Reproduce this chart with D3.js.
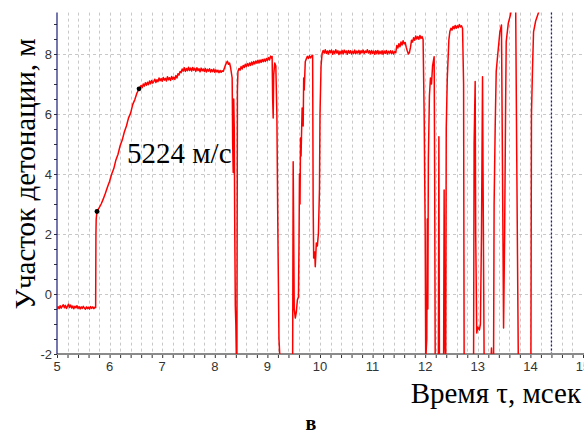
<!DOCTYPE html>
<html>
<head>
<meta charset="utf-8">
<script src="https://cdnjs.cloudflare.com/ajax/libs/d3/7.8.5/d3.min.js"></script>
<style>
  body { margin: 0; background: #fff; }
  svg { display: block; }
</style>
</head>
<body>
<div id="chart"></div>
<script>
// values: [время, мсек ; участок, м]
var baseline = [
  [5.00, -0.52], [5.02, -0.42], [5.04, -0.49], [5.06, -0.39], [5.08, -0.47], [5.10, -0.41],
  [5.12, -0.36], [5.14, -0.46], [5.16, -0.38], [5.18, -0.48], [5.20, -0.41], [5.22, -0.34],
  [5.24, -0.45], [5.26, -0.37], [5.28, -0.47], [5.30, -0.40], [5.32, -0.49], [5.34, -0.41],
  [5.36, -0.46], [5.38, -0.39], [5.40, -0.48], [5.42, -0.42], [5.44, -0.50], [5.46, -0.43],
  [5.48, -0.48], [5.50, -0.41], [5.52, -0.47], [5.54, -0.51], [5.56, -0.43], [5.58, -0.49],
  [5.60, -0.44], [5.62, -0.50], [5.64, -0.42], [5.66, -0.48], [5.68, -0.43], [5.70, -0.49],
  [5.72, -0.44], [5.735, -0.45]
];
var rise = [
  [5.74, 2.0], [5.745, 2.5], [5.76, 2.75], [5.80, 2.87], [5.84, 3.00], [5.88, 3.17],
  [5.92, 3.36], [5.96, 3.57], [6.00, 3.76], [6.04, 4.00], [6.08, 4.18], [6.12, 4.47],
  [6.16, 4.66], [6.20, 4.94], [6.24, 5.13], [6.28, 5.40], [6.32, 5.60], [6.36, 5.87],
  [6.40, 6.03], [6.44, 6.32], [6.48, 6.48], [6.52, 6.70], [6.56, 6.84]
];
var plateau1 = [
  [6.58, 6.90], [6.60, 6.95], [6.62, 6.88], [6.64, 7.00], [6.66, 6.93], [6.68, 7.04],
  [6.70, 6.96], [6.72, 7.06], [6.74, 6.98], [6.76, 7.10], [6.78, 7.01], [6.80, 7.12],
  [6.82, 7.03], [6.84, 7.09], [6.86, 7.16], [6.88, 7.05], [6.90, 7.14], [6.92, 7.08],
  [6.94, 7.20], [6.96, 7.11], [6.98, 7.18], [7.00, 7.09], [7.02, 7.22], [7.04, 7.13],
  [7.06, 7.19], [7.08, 7.10], [7.10, 7.24], [7.12, 7.14], [7.14, 7.21], [7.16, 7.12],
  [7.18, 7.25], [7.20, 7.16], [7.22, 7.23], [7.24, 7.15], [7.26, 7.28], [7.28, 7.20],
  [7.30, 7.34], [7.32, 7.30], [7.34, 7.42], [7.36, 7.38], [7.38, 7.50], [7.40, 7.43],
  [7.42, 7.54], [7.44, 7.42], [7.46, 7.52], [7.48, 7.44], [7.50, 7.56], [7.52, 7.45],
  [7.54, 7.53], [7.56, 7.43], [7.58, 7.55], [7.60, 7.46], [7.62, 7.52], [7.64, 7.42],
  [7.66, 7.54], [7.68, 7.45], [7.70, 7.51], [7.72, 7.41], [7.74, 7.53], [7.76, 7.44],
  [7.78, 7.50], [7.80, 7.42], [7.82, 7.52], [7.84, 7.40], [7.86, 7.49], [7.88, 7.43],
  [7.90, 7.51], [7.92, 7.40], [7.94, 7.48], [7.96, 7.41], [7.98, 7.50], [8.00, 7.39],
  [8.02, 7.47], [8.04, 7.40], [8.06, 7.46], [8.08, 7.38], [8.10, 7.45], [8.12, 7.39],
  [8.14, 7.44], [8.16, 7.42], [8.18, 7.52], [8.20, 7.62], [8.22, 7.70], [8.24, 7.76],
  [8.26, 7.66], [8.28, 7.70], [8.30, 7.55], [8.33, 7.20], [8.34, 5.00], [8.35, 4.05],
  [8.36, 6.50], [8.37, 5.50], [8.38, 2.00], [8.39, -0.40], [8.40, -1.00], [8.41, -2.2],
  [8.42, -2.2], [8.43, 6.80], [8.44, 7.42], [8.46, 7.52], [8.48, 7.46], [8.50, 7.58],
  [8.52, 7.50], [8.54, 7.62], [8.56, 7.55], [8.58, 7.66], [8.60, 7.58], [8.62, 7.68],
  [8.64, 7.60], [8.66, 7.70], [8.68, 7.62], [8.70, 7.73], [8.72, 7.64], [8.74, 7.75],
  [8.76, 7.67], [8.78, 7.77], [8.80, 7.69], [8.82, 7.79], [8.84, 7.70], [8.86, 7.80],
  [8.88, 7.72], [8.90, 7.82], [8.92, 7.74], [8.94, 7.83], [8.96, 7.75], [8.98, 7.85],
  [9.00, 7.78], [9.02, 7.88], [9.04, 7.80], [9.06, 7.93], [9.08, 7.86], [9.09, 7.92],
  [9.10, 6.50], [9.11, 5.87], [9.12, 7.30], [9.14, 7.70], [9.16, 7.60], [9.18, 6.00],
  [9.20, 1.90], [9.22, -1.50], [9.24, -2.2]
];
var breakup1 = [
  [9.48, -2.2], [9.49, 4.41], [9.51, -0.50], [9.53, -0.80], [9.55, -0.60], [9.57, -0.20],
  [9.59, -0.10], [9.60, 1.50], [9.61, 4.00], [9.62, 3.00], [9.63, 5.20], [9.64, 4.60],
  [9.66, 6.20], [9.68, 5.60], [9.69, 7.20], [9.70, 6.80], [9.72, 7.74], [9.74, 7.84],
  [9.76, 7.92], [9.78, 7.85], [9.80, 7.94], [9.82, 7.87], [9.84, 7.93], [9.86, 7.96],
  [9.87, 3.00], [9.88, 1.20], [9.90, 1.40], [9.91, 0.91], [9.93, 1.70], [9.95, 1.60],
  [9.97, 2.03], [9.99, 3.50], [10.00, 6.00], [10.02, 7.60], [10.04, 8.02]
];
var plateau2 = [
  [10.06, 8.12], [10.08, 8.03], [10.10, 8.14], [10.12, 8.02], [10.14, 8.10], [10.16, 8.00],
  [10.18, 8.12], [10.20, 8.04], [10.22, 8.13], [10.24, 7.99], [10.26, 8.10], [10.28, 8.02],
  [10.30, 8.14], [10.32, 8.03], [10.34, 8.11], [10.36, 7.98], [10.38, 8.09], [10.40, 8.01],
  [10.42, 8.12], [10.44, 8.00], [10.46, 8.13], [10.48, 8.04], [10.50, 8.10], [10.52, 7.99],
  [10.54, 8.12], [10.56, 8.03], [10.58, 8.11], [10.60, 8.00], [10.62, 8.09], [10.64, 8.02],
  [10.66, 8.13], [10.68, 8.01], [10.70, 8.10], [10.72, 8.03], [10.74, 8.12], [10.76, 8.00],
  [10.78, 8.11], [10.80, 8.04], [10.82, 8.13], [10.84, 8.02], [10.86, 8.10], [10.88, 8.05],
  [10.90, 8.14], [10.92, 8.03], [10.94, 8.11], [10.96, 8.01], [10.98, 8.12], [11.00, 8.02],
  [11.02, 8.10], [11.04, 7.99], [11.06, 8.11], [11.08, 8.02], [11.10, 8.12], [11.12, 8.00],
  [11.14, 8.09], [11.16, 8.01], [11.18, 8.11], [11.20, 7.99], [11.22, 8.10], [11.24, 8.02],
  [11.26, 8.12], [11.28, 8.00], [11.30, 8.09], [11.32, 8.03], [11.34, 8.11], [11.36, 8.01],
  [11.38, 8.10], [11.40, 8.00], [11.42, 8.08], [11.44, 8.04], [11.46, 8.28], [11.48, 8.20],
  [11.50, 8.34], [11.52, 8.24], [11.54, 8.40], [11.56, 8.30], [11.58, 8.44], [11.60, 8.34],
  [11.62, 8.38], [11.64, 8.22], [11.66, 8.10], [11.68, 8.00], [11.70, 8.05], [11.72, 8.22],
  [11.74, 8.46], [11.76, 8.40], [11.78, 8.54], [11.80, 8.46], [11.82, 8.60], [11.84, 8.50],
  [11.86, 8.58], [11.88, 8.49], [11.90, 8.62], [11.92, 8.52], [11.94, 8.58], [11.96, 8.48]
];
var breakup2 = [
  [11.98, 6.0], [12.00, 2.0], [12.01, -2.2], [12.03, -1.5], [12.04, 2.5], [12.05, -0.5],
  [12.06, 4.5], [12.08, 6.6], [12.10, 7.2], [12.12, 7.0], [12.14, 7.6], [12.17, 7.91],
  [12.18, 4.0], [12.19, -2.2], [12.25, -2.2], [12.26, 5.24], [12.27, -2.2], [12.35, -2.2],
  [12.36, 3.47], [12.37, -1.5], [12.39, -2.2], [12.40, 5.5], [12.42, 7.2], [12.45, 8.47],
  [12.47, 8.76], [12.49, 8.86], [12.51, 8.80], [12.53, 8.92], [12.55, 8.84], [12.57, 8.95],
  [12.59, 8.86], [12.61, 8.94], [12.63, 8.88], [12.65, 8.98], [12.67, 8.90], [12.69, 8.94],
  [12.71, 8.85], [12.73, 7.0], [12.74, -2.2], [12.92, -2.2], [12.93, 5.0], [12.95, 7.08],
  [12.96, 2.0], [12.98, -1.3], [13.00, -1.1], [13.03, -1.2], [13.05, -1.0], [13.07, 2.0],
  [13.09, 7.24], [13.10, 4.0], [13.12, -2.2], [13.25, -2.2], [13.26, -1.8], [13.27, -2.2],
  [13.30, -2.2], [13.31, 2.97], [13.33, 5.5], [13.35, 7.42], [13.38, 8.0], [13.42, 8.74],
  [13.45, 8.97], [13.47, 4.0], [13.49, -1.13], [13.51, 2.0], [13.53, 6.5], [13.54, 8.41],
  [13.58, 9.03], [13.62, 9.3], [13.65, 9.6], [13.72, 9.6], [13.74, 4.63], [13.77, -2.2],
  [14.01, -2.2], [14.02, 5.97], [14.04, 7.5], [14.06, 8.74], [14.10, 9.1], [14.15, 9.36],
  [14.20, 9.6], [14.40, 9.6]
];
var markers = [[5.76, 2.75], [6.56, 6.84]];
var xTicks = [5, 6, 7, 8, 9, 10, 11, 12, 13, 14, 15];
var yTicks = [-2, 0, 2, 4, 6, 8];
var endTime = 14.4;

var width = 584, height = 435;
var plotLeft = 57, plotRight = 583, plotTop = 12.6, plotBottom = 354;

var x = d3.scaleLinear().domain([5, 15]).range([plotLeft, plotRight]);
var y = d3.scaleLinear().domain([-2, 9.38]).range([plotBottom, plotTop]);

var svg = d3.select("#chart").append("svg")
  .attr("width", width)
  .attr("height", height);

svg.append("clipPath").attr("id", "plot")
  .append("rect")
  .attr("x", plotLeft).attr("y", plotTop)
  .attr("width", plotRight - plotLeft).attr("height", plotBottom - plotTop);

// grid
var grid = svg.append("g");
grid.selectAll(".vg")
  .data(d3.range(1, 50).map(function (i) { return 5 + i * 0.2; }))
  .enter().append("line")
  .attr("x1", function (d) { return Math.round(x(d)) + 0.5; })
  .attr("x2", function (d) { return Math.round(x(d)) + 0.5; })
  .attr("y1", plotTop).attr("y2", plotBottom)
  .attr("stroke", "#c8c8c8")
  .attr("stroke-dasharray", "3,3");
grid.selectAll(".hg")
  .data(yTicks.slice(1))
  .enter().append("line")
  .attr("x1", plotLeft).attr("x2", plotRight)
  .attr("y1", function (d) { return Math.round(y(d)) + 0.5; })
  .attr("y2", function (d) { return Math.round(y(d)) + 0.5; })
  .attr("stroke", "#c8c8c8")
  .attr("stroke-dasharray", "3,3");

// axes
var xAxis = svg.append("g").attr("transform", "translate(0," + plotBottom + ")")
  .call(d3.axisBottom(x).tickValues(d3.range(0, 51).map(function (i) { return 5 + i * 0.2; }))
    .tickSize(4).tickFormat(""));
xAxis.select(".domain").remove();
xAxis.selectAll(".tick text").remove();
xAxis.selectAll("line").attr("stroke", "#333");
xAxis.selectAll(".lbl")
  .data(xTicks)
  .enter().append("text")
  .attr("x", function (d) { return x(d); })
  .attr("y", 17)
  .attr("text-anchor", "middle")
  .attr("font-family", "Liberation Sans, Arial, sans-serif")
  .attr("font-size", 13)
  .attr("fill", "#333")
  .text(function (d) { return d; });
svg.append("line")
  .attr("x1", plotLeft).attr("x2", width)
  .attr("y1", plotBottom).attr("y2", plotBottom)
  .attr("stroke", "#8a8a8a").attr("stroke-width", 2);

var yAxis = svg.append("g").attr("transform", "translate(" + plotLeft + ",0)")
  .call(d3.axisLeft(y).tickValues(d3.range(0, 23).map(function (i) { return -2 + i * 0.5; }))
    .tickSize(3).tickFormat(""));
yAxis.select(".domain").remove();
yAxis.selectAll(".tick text").remove();
yAxis.selectAll("line").attr("stroke", "#333");
yAxis.selectAll(".lbl")
  .data(yTicks)
  .enter().append("text")
  .attr("x", -5)
  .attr("y", function (d) { return y(d) + 4.5; })
  .attr("text-anchor", "end")
  .attr("font-family", "Liberation Sans, Arial, sans-serif")
  .attr("font-size", 13)
  .attr("fill", "#333")
  .text(function (d) { return d; });
svg.append("line")
  .attr("x1", plotLeft).attr("x2", plotLeft)
  .attr("y1", plotTop).attr("y2", plotBottom)
  .attr("stroke", "#1c1c78").attr("stroke-width", 1.2);

// end marker
svg.append("line")
  .attr("x1", x(endTime)).attr("x2", x(endTime))
  .attr("y1", plotTop).attr("y2", plotBottom - 1)
  .attr("stroke", "#1c1c78").attr("stroke-width", 1.3)
  .attr("stroke-dasharray", "2,2");

// trace
var line = d3.line()
  .x(function (d) { return x(d[0]); })
  .y(function (d) { return y(d[1]); });

var trace = baseline.concat(rise, plateau1, breakup1, plateau2, breakup2);
svg.append("path")
  .datum(trace)
  .attr("clip-path", "url(#plot)")
  .attr("fill", "none")
  .attr("stroke", "#ff0000")
  .attr("stroke-width", 1.5)
  .attr("stroke-linejoin", "round")
  .attr("d", line);

svg.selectAll(".mk")
  .data(markers)
  .enter().append("circle")
  .attr("cx", function (d) { return x(d[0]); })
  .attr("cy", function (d) { return y(d[1]); })
  .attr("r", 2.4)
  .attr("fill", "#000");

// texts
svg.append("text")
  .attr("x", 127).attr("y", 163)
  .attr("font-family", "Liberation Serif, Times New Roman, serif")
  .attr("font-size", 29)
  .attr("fill", "#000")
  .text("5224 м/с");

svg.append("text")
  .attr("transform", "translate(35,174) rotate(-90)")
  .attr("text-anchor", "middle")
  .attr("font-family", "Liberation Serif, Times New Roman, serif")
  .attr("font-size", 29)
  .attr("fill", "#000")
  .text("Участок детонации, м");

svg.append("text")
  .attr("x", 581).attr("y", 403)
  .attr("text-anchor", "end")
  .attr("font-family", "Liberation Serif, Times New Roman, serif")
  .attr("font-size", 29)
  .attr("fill", "#000")
  .text("Время τ, мсек");

svg.append("text")
  .attr("x", 311).attr("y", 430)
  .attr("text-anchor", "middle")
  .attr("font-family", "Liberation Serif, Times New Roman, serif")
  .attr("font-weight", "bold")
  .attr("font-size", 20)
  .attr("fill", "#000")
  .text("в");
</script>
</body>
</html>
